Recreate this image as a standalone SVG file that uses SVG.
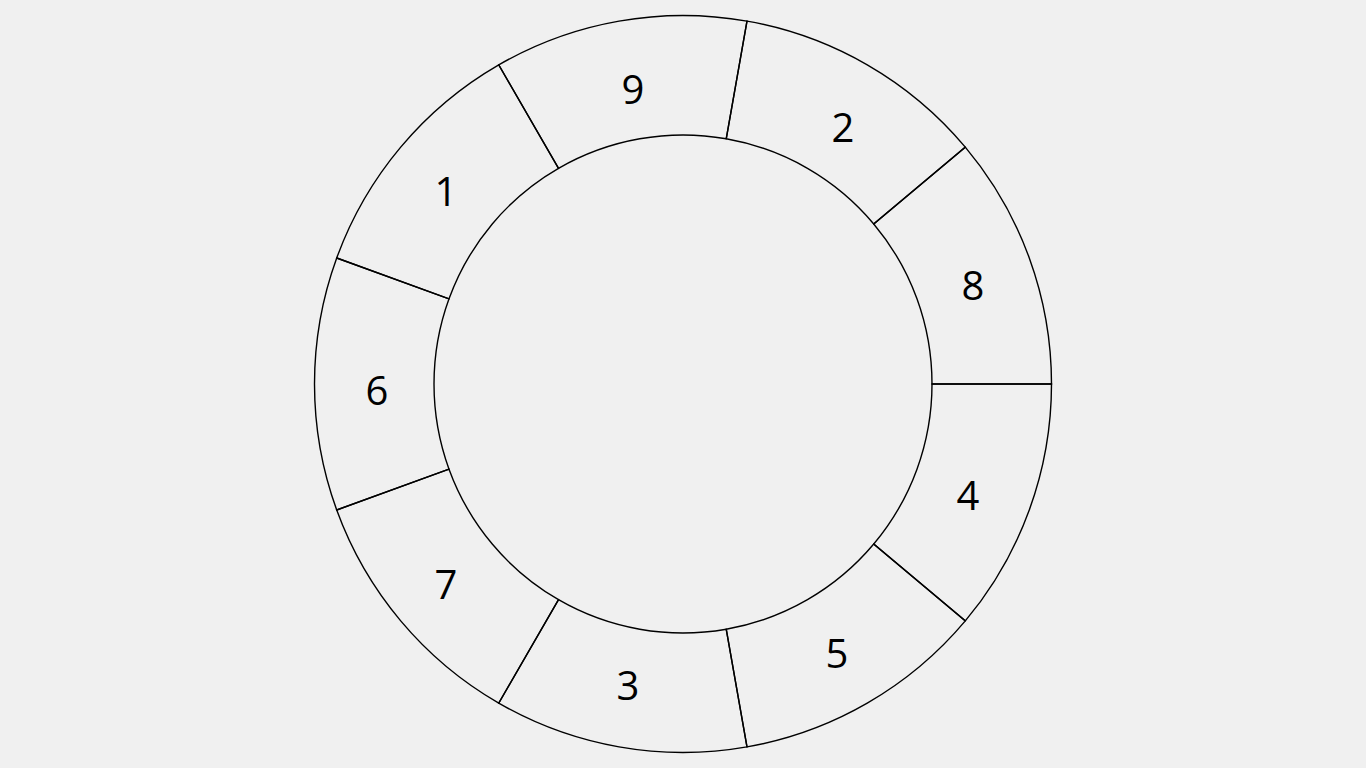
<svg xmlns="http://www.w3.org/2000/svg" width="1366" height="768" viewBox="0 0 1366 768">
<style>
.seg{fill:none;stroke:#000;stroke-width:1.4}
.lbl{font-family:"Open Sans","Liberation Sans",sans-serif;font-size:40px;fill:#000;text-anchor:middle}
</style>
<rect width="1366" height="768" fill="#f0f0f0"/>
<g id="seg-8"><path class="seg" d="M1051.5,384 A368.5,368.5 0 0 0 965.29,147.13 L873.74,223.95 A249,249 0 0 1 932,384 Z"/><text class="lbl" x="973" y="300">8</text></g>
<g id="seg-2"><path class="seg" d="M965.29,147.13 A368.5,368.5 0 0 0 746.99,21.1 L726.24,138.78 A249,249 0 0 1 873.74,223.95 Z"/><text class="lbl" x="843" y="142">2</text></g>
<g id="seg-9"><path class="seg" d="M746.99,21.1 A368.5,368.5 0 0 0 498.75,64.87 L558.5,168.36 A249,249 0 0 1 726.24,138.78 Z"/><text class="lbl" x="633" y="104">9</text></g>
<g id="seg-1"><path class="seg" d="M498.75,64.87 A368.5,368.5 0 0 0 336.72,257.97 L449.02,298.84 A249,249 0 0 1 558.5,168.36 Z"/><text class="lbl" x="446" y="206">1</text></g>
<g id="seg-6"><path class="seg" d="M336.72,257.97 A368.5,368.5 0 0 0 336.72,510.03 L449.02,469.16 A249,249 0 0 1 449.02,298.84 Z"/><text class="lbl" x="377" y="405">6</text></g>
<g id="seg-7"><path class="seg" d="M336.72,510.03 A368.5,368.5 0 0 0 498.75,703.13 L558.5,599.64 A249,249 0 0 1 449.02,469.16 Z"/><text class="lbl" x="446" y="599">7</text></g>
<g id="seg-3"><path class="seg" d="M498.75,703.13 A368.5,368.5 0 0 0 746.99,746.9 L726.24,629.22 A249,249 0 0 1 558.5,599.64 Z"/><text class="lbl" x="628" y="700">3</text></g>
<g id="seg-5"><path class="seg" d="M746.99,746.9 A368.5,368.5 0 0 0 965.29,620.87 L873.74,544.05 A249,249 0 0 1 726.24,629.22 Z"/><text class="lbl" x="837" y="668">5</text></g>
<g id="seg-4"><path class="seg" d="M965.29,620.87 A368.5,368.5 0 0 0 1051.5,384 L932,384 A249,249 0 0 1 873.74,544.05 Z"/><text class="lbl" x="968" y="510">4</text></g>
<g id="connectors"></g>
</svg>
